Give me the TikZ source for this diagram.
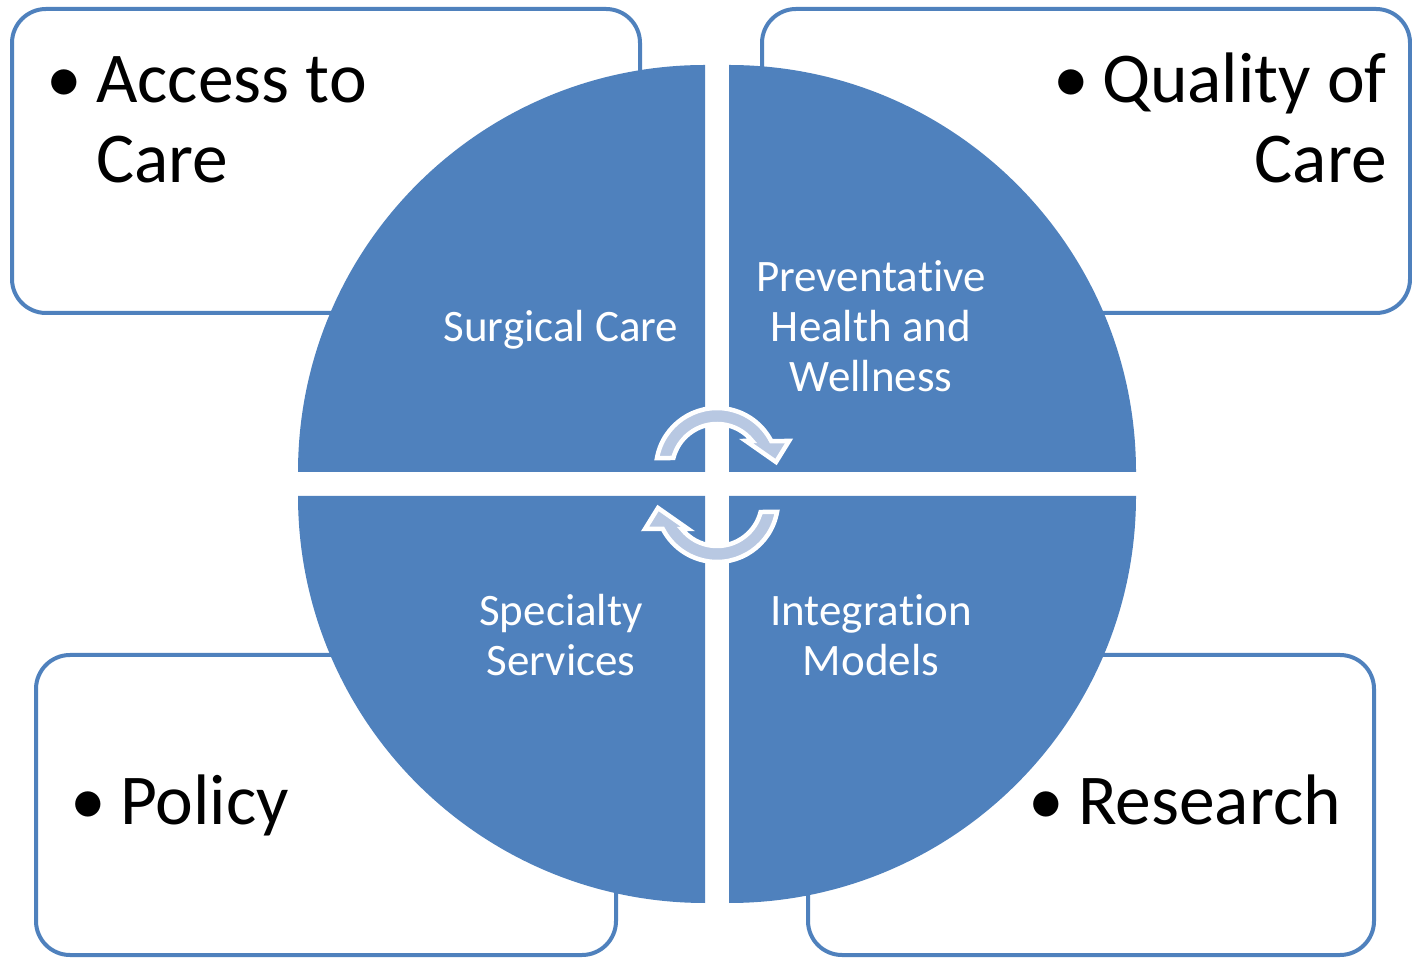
\documentclass[tikz,border=0pt]{standalone}
\usepackage{fontspec}
\setmainfont{Carlito}[Ligatures=NoCommon]
\definecolor{accent}{RGB}{79,129,189}
\definecolor{arrowfill}{RGB}{184,200,226}
\tikzset{
  outerbox/.style={draw=accent, line width=4pt, fill=white, rounded corners=34pt},
  quad/.style={fill=accent},
  bigtxt/.style={inner sep=0pt, text=black, font=\fontsize{71.5}{80}\selectfont},
  smalltxt/.style={inner sep=0pt, text=white, anchor=base, font=\fontsize{45}{50}\selectfont},
  cyclearrow/.style={fill=arrowfill, draw=white, line width=4.5pt, line join=miter}
}
\begin{document}
\begin{tikzpicture}[x=1pt,y=1pt]
\useasboundingbox (0,0) rectangle (1412,958);
% outer boxes
\draw[outerbox] (12,949) rectangle (640,645);
\draw[outerbox] (762,949) rectangle (1410,645);
\draw[outerbox] (36,303) rectangle (616,3);
\draw[outerbox] (808,303) rectangle (1374,3);
% quadrants
\fill[quad] (705,486) -- (298,486) arc[start angle=180, end angle=90, radius=407pt] -- cycle;
\fill[quad] (729,486) -- (729,893) arc[start angle=90, end angle=0, radius=407pt] -- cycle;
\fill[quad] (705,462) -- (705,55) arc[start angle=270, end angle=180, radius=407pt] -- cycle;
\fill[quad] (729,462) -- (1136,462) arc[start angle=0, end angle=-90, radius=407pt] -- cycle;
% circular arrows
\path[cyclearrow] ([shift={(169.8:61pt)}]717,489) arc[start angle=169.8, end angle=27.3, radius=61pt]
  -- (789,517) -- (776,496) -- (746,517) -- ([shift={(38.5:45pt)}]717,489)
  arc[start angle=38.5, end angle=165.8, radius=45pt] -- cycle;
\begin{scope}[rotate around={180:(717,473)}]
\path[cyclearrow] ([shift={(169.8:61pt)}]717,489) arc[start angle=169.8, end angle=27.3, radius=61pt]
  -- (789,517) -- (776,496) -- (746,517) -- ([shift={(38.5:45pt)}]717,489)
  arc[start angle=38.5, end angle=165.8, radius=45pt] -- cycle;
\end{scope}
% box texts
\node[bigtxt, anchor=base] (accb) at (64,855) {•};
\node[bigtxt, anchor=base west] (acc1) at (96,855) {Access to};
\node[bigtxt, anchor=base west] (acc2) at (96,775) {Care};
\node[bigtxt, anchor=base] (qualb) at (1071,855) {•};
\node[bigtxt, anchor=base east] (qual1) at (1387,855) {Quality of};
\node[bigtxt, anchor=base east] (qual2) at (1387,775) {Care};
\node[bigtxt, anchor=base] (polb) at (88,133) {•};
\node[bigtxt, anchor=base west] (pol) at (120,133) {Policy};
\node[bigtxt, anchor=base] (resb) at (1046,133) {•};
\node[bigtxt, anchor=base west] (res) at (1078,133) {Research};
% quadrant texts
\node[smalltxt] (surg) at (561,616) {Surgical Care};
\node[smalltxt] (prev1) at (871,666) {Preventative};
\node[smalltxt] (prev2) at (871,616) {Health and};
\node[smalltxt] (prev3) at (871,566) {Wellness};
\node[smalltxt] (spec1) at (561,332) {Specialty};
\node[smalltxt] (spec2) at (561,282) {Services};
\node[smalltxt] (integ1) at (871,332) {Integration};
\node[smalltxt] (integ2) at (871,282) {Models};
\end{tikzpicture}
\end{document}
